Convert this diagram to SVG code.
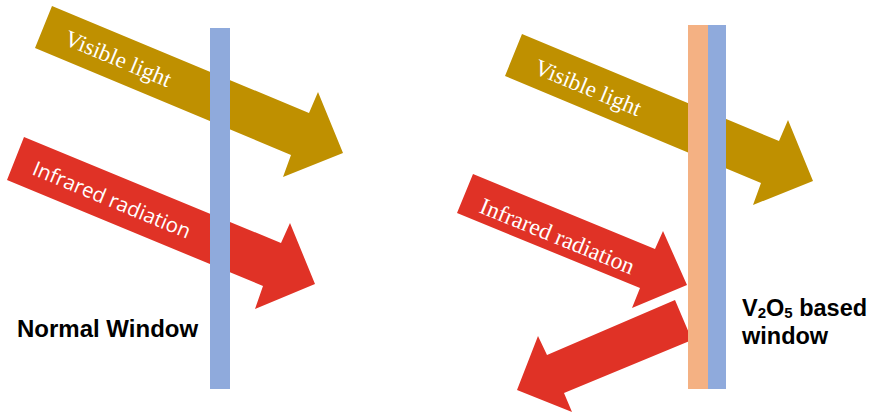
<svg xmlns="http://www.w3.org/2000/svg" width="873" height="413" viewBox="0 0 873 413">
<style>
.vis{fill:#BF9000}
.ir{fill:#E03226}
.blue{fill:#8FAADC}
.orange{fill:#F4B183}
.serif{font-family:"Liberation Serif","Times New Roman",serif;fill:#FFFFFF}
.sans{font-family:"Open Sans","Noto Sans",sans-serif;fill:#FFFFFF}
.lbl{font-family:"Liberation Sans",Arial,sans-serif;font-weight:bold;fill:#000000;font-size:23.5px}
</style>
<rect width="873" height="413" fill="#FFFFFF"/>
<g id="connectors">
  <polygon id="vis-left" class="vis" points="52,6 309,113 318,92 343,153 283,177 291,155 35,48"/>
  <polygon id="ir-left" class="ir" points="24,137 281,243 290,223 315,284 255,309 263,286 7,180"/>
  <polygon id="vis-right" class="vis" points="522,34 779,141 788,120 813,181 753,205 761,183 505,76"/>
  <polygon id="ir-right-in" class="ir" points="473,174 655,249 663,231 687,285 632,308 640,288 457,213"/>
  <polygon id="ir-right-out" class="ir" points="675,300 692,340 564,393 572,412 517,390 538,336 547,355"/>
</g>
<g id="normal-window">
  <rect class="blue" x="210" y="28" width="20" height="361"/>
  <text class="lbl" x="17" y="337" font-size="24" style="font-size:24px">Normal Window</text>
</g>
<g id="v2o5-window">
  <rect class="orange" x="688" y="25" width="20" height="364"/>
  <rect class="blue" x="708" y="25" width="18" height="364"/>
  <text class="lbl" x="742" y="316">V<tspan font-size="15" dy="2">2</tspan><tspan dy="-2">O</tspan><tspan font-size="15" dy="2">5</tspan><tspan dy="-2"> based</tspan></text>
  <text class="lbl" x="742" y="344">window</text>
</g>
<g id="labels">
  <text class="serif" font-size="23" transform="translate(63,44) rotate(22.6)">Visible light</text>
  <text class="sans" font-size="20.5" transform="translate(31,174) rotate(22.6)">Infrared radiation</text>
  <text class="serif" font-size="23" transform="translate(533,73) rotate(22.6)">Visible light</text>
  <text class="serif" font-size="23.5" transform="translate(478,212) rotate(22.3)">Infrared radiation</text>
</g>
</svg>
